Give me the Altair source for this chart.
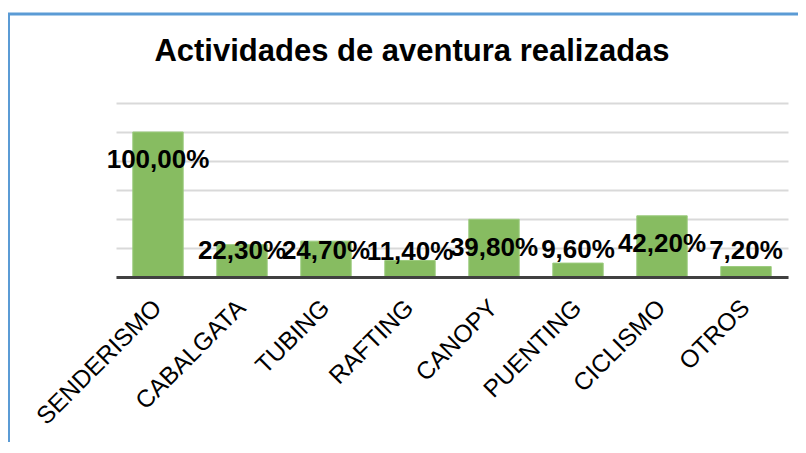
import altair as alt
import pandas as pd

categories = ["SENDERISMO", "CABALGATA", "TUBING", "RAFTING", "CANOPY", "PUENTING", "CICLISMO", "OTROS"]
values = [100.0, 22.3, 24.7, 11.4, 39.8, 9.6, 42.2, 7.2]
value_labels = ["100,00%", "22,30%", "24,70%", "11,40%", "39,80%", "9,60%", "42,20%", "7,20%"]
label_anchor = [80.5, 18.0, 18.0, 17.5, 20.0, 18.5, 23.0, 18.0]
y_ticks = [0, 20, 40, 60, 80, 100, 120]
title_text = "Actividades de aventura realizadas"

df = pd.DataFrame({"cat": categories, "val": values, "lab": value_labels, "ly": label_anchor})
one = pd.DataFrame({"a": [0]})

x_enc = alt.X(
    "cat:N", sort=categories,
    scale=alt.Scale(paddingInner=0.4, paddingOuter=0.2),
    axis=alt.Axis(title=None, labelAngle=-45, labelAlign="right", labelBaseline="middle",
                  labelFont="Liberation Sans", labelFontSize=24.5, labelColor="black",
                  labelPadding=27, ticks=False, domainColor="#404040", domainWidth=3,
                  grid=False, zindex=1),
)
y_axis = alt.Axis(title=None, values=y_ticks, labels=False, ticks=False, domain=False,
                  grid=True, gridColor="#D9D9D9", gridWidth=2, zindex=0)
y_scale = alt.Scale(domain=[0, 120], nice=False, zero=True)

bars = alt.Chart(df).mark_bar(color="#87BC61", stroke="#9CCB7E", strokeWidth=1).encode(
    x=x_enc,
    y=alt.Y("val:Q", scale=y_scale, axis=y_axis),
)

labels = alt.Chart(df).mark_text(
    font="Liberation Sans", fontWeight="bold", fontSize=26, color="black", baseline="middle"
).encode(
    x=x_enc,
    y=alt.Y("ly:Q", scale=y_scale, axis=y_axis),
    text="lab:N",
)

frame_left = alt.Chart(one).mark_rule(color="#5B9BD5", strokeWidth=3).encode(
    x=alt.value(-107.5), y=alt.value(-89), y2=alt.value(345)
)
frame_top = alt.Chart(one).mark_rule(color="#5B9BD5", strokeWidth=3).encode(
    x=alt.value(-108), x2=alt.value(690), y=alt.value(-89)
)

chart = alt.layer(frame_left, frame_top, bars, labels).properties(
    width=672,
    height=174,
    autosize=alt.AutoSizeParams(type="none"),
    padding={"left": 108, "top": 95, "right": 10, "bottom": 165},
    title=alt.TitleParams(
        text=title_text, font="Liberation Sans", fontSize=31, fontWeight="bold",
        color="black", anchor="middle", frame="group", baseline="alphabetic",
        offset=-79.5, dx=-40,
    ),
).configure_view(stroke=None)

chart.save("out.html", embed_options={"renderer": "svg", "actions": False})
